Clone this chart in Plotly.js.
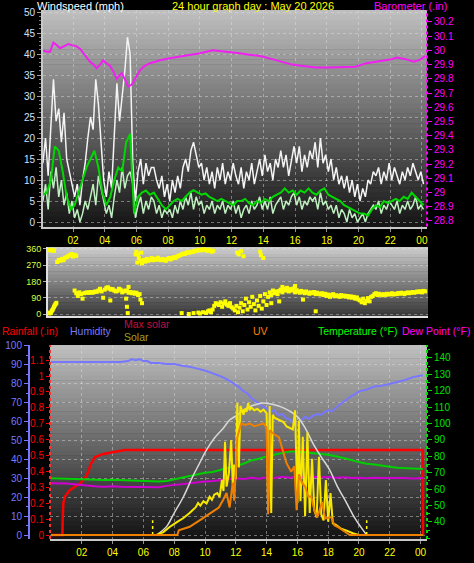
<!DOCTYPE html>
<html><head><meta charset="utf-8">
<script src="https://cdn.plot.ly/plotly-3.0.1.min.js"></script>
<style>html,body{margin:0;padding:0;background:#000;}#chart{width:474px;height:563px;}</style>
</head><body><div id="chart"></div>
<script>
function grid(start, step, n){const a=[];for(let i=0;i<n;i++)a.push(+(start+i*step).toFixed(3));return a;}

// ---------- tick labels ----------
const hourTicks=[2,4,6,8,10,12,14,16,18,20,22,24];
const hourLabels=['02','04','06','08','10','12','14','16','18','20','22','00'];
const baroTicks=[28.8,28.9,29.0,29.1,29.2,29.3,29.4,29.5,29.6,29.7,29.8,29.9,30.0,30.1,30.2];
const baroLabels=['28.8','28.9','29','29.1','29.2','29.3','29.4','29.5','29.6','29.7','29.8','29.9','30','30.1','30.2'];
const dirTicks=[0,90,180,270,360];
const compassTicks=[360,270,180,90,0];
const compassLabels=['N','W','S','E','N'];
const rainTicks=[0,0.1,0.2,0.3,0.4,0.5,0.6,0.7,0.8,0.9,1,1.1];
const rainLabels=['0','0.1','0.2','0.3','0.4','0.5','0.6','0.7','0.8','0.9','1','1.1'];
const tempTicks=[40,50,60,70,80,90,100,110,120,130,140];

// ---------- wind (mph), samples every 10 min from 00:06 ----------
const gustValues=[
14,20,11,22,34,24, 27,19,26,15,12,9, 6,9,4,10,14,20, 25,22,34,28,18,10,
6,12,8,20,33,24, 30,36,44,40,14,5, 12,15,9,14,11,13, 13,10,8,11,6,9,
5,10,7,11,8,13, 15,12,17,19,16,13, 14,10,13,9,12,8, 13,10,14,9,12,10,
14,11,9,13,8,12, 10,14,9,12,15,11, 16,12,14,10,15,13, 17,13,16,11,15,18,
14,18,12,16,13,17, 15,19,13,20,14,16, 12,15,10,13,9,11, 8,11,7,10,6,9,
5,8,6,10,9,12, 11,13,9,12,10,14, 10,13,11,9,12,10, 13,11,14,12,10,12, 9];
const avgValues=[
5,9,3,12,8,13, 6,10,4,7,2,5, 1,3,0,2,5,3, 6,9,4,11,8,5,
2,4,1,6,10,7, 13,8,11,12,9,1, 4,6,2,5,3,6, 5,2,4,1,3,2,
3,1,4,2,5,3, 6,4,7,3,6,4, 5,2,4,3,5,2, 4,3,5,2,4,3,
5,2,4,1,3,4, 2,5,3,4,6,3, 5,3,6,2,4,5, 6,3,5,4,6,7,
4,6,3,5,4,6, 5,6,3,7,4,5, 3,4,2,4,1,3, 2,0,3,1,2,0,
1,2,0,2,3,4, 3,5,2,4,3,5, 4,3,5,2,4,3, 5,3,4,6,3,4, 3];
const gustTimes=grid(0.1,1/6,gustValues.length);
// 10-minute average, every 15 min
const avg10Values=[
6.5,7,10,18,17,12,6,3, 4,7,10,13,15,17,13,7, 4,6,10,13,12,19,21,2,
6,7,7.5,6.5,7,5.5,4,3, 4,5,5.5,5,6,7,7.6,7, 6.5,6.8,6,5.5,5,5.5,5,4.5,
4,5,5,5.5,4.5,4,5,4.5, 5.5,5,6,6.5,7,8,7,7.5, 6.5,7.5,7,8,7,6.5,7.5,8,
6.5,6,5.5,5,4,3.5,3,2.5, 2,2,1.5,3,4,3.5,5,4.5, 5,5.5,5,6,5.5,7,6,5, 4];
const avg10Times=grid(0.1,0.25,avg10Values.length);
// barometer (in)
const baroTimes=[0.1,0.35,0.55,0.76,0.95,1.18,1.45,1.71,1.95,2.2,2.45,2.65,2.85,3.07,3.3,3.49,3.7,3.9,4.1,4.34,
4.55,4.75,4.9,5.07,5.25,5.49,5.7,5.9,6.22,6.5,6.85,7.2,7.48,8.1,8.95,10.0,10.8,11.9,12.5,13.1,
13.8,14.5,15.1,15.8,16.5,17.3,18.1,19.0,19.8,20.5,21.4,22.0,22.4,22.9,23.5,23.9,24.2];
const baroValues=[30.0,29.99,29.99,30.055,30.04,30.015,30.03,30.045,30.035,30.03,30.01,29.98,29.95,29.92,29.90,29.875,29.90,29.93,29.91,29.89,
29.85,29.80,29.82,29.84,29.80,29.745,29.76,29.80,29.86,29.89,29.91,29.92,29.93,29.945,29.96,29.98,30.0,29.99,29.98,29.97,
29.96,29.94,29.92,29.90,29.89,29.88,29.88,29.88,29.885,29.91,29.925,29.935,29.95,29.94,29.92,29.935,29.96];

// ---------- wind direction (degrees) ----------
const dirTimes=[].concat(
 grid(0.5,0.05,10),[0.5,0.6,0.7,0.8],grid(1.0,0.1,13),grid(2.1,0.1,22),grid(4.3,0.1,20),
 [4.35,5.35,5.4,5.45,5.5,6.25,6.35],grid(5.95,0.1,50),[6.0,6.1,6.3],
 [8.85,9.3,9.6,9.9,10.0,10.2,10.4,10.5,10.6,10.7,10.8],grid(10.9,0.1,13),grid(12.2,0.1,21),
 [12.35,12.45,12.6,12.75,13.8,13.85,14.0],grid(14.3,0.1,58),[14.5,15.0,15.2,16.0,16.5,17.3],
 grid(20.1,0.1,9),grid(21.0,0.1,33));
const dirValues=[].concat(
 [3,8,5,15,22,30,40,48,55,62],[355,352,356,350],
 [288,300,295,305,298,312,315,320,325,332,318,328,322],
 [130,115,100,120,110,85,115,118,120,117,122,118,120,125,123,130,140,125,90,135,145,148],
 [140,135,138,130,125,128,140,135,120,125,130,128,118,122,115,120,112,118,105,110],
 [75,85,40,5,150,80,60],
 [330,285,310,295,280,300,290,305,295,300, 310,298,305,300,312,302,298,305,300,295,
  305,310,302,308,315,310,318,322,325,330, 335,332,338,342,340,345,343,348,350,352,
  355,352,356,358,355,350,357,352,345,350],[345,330,340],
 [5,0,5,8,3,10,6,15,20,10,25],
 [45,60,55,50,65,40,58,70,52,45,60,38,30],
 [20,45,10,35,60,15,50,85,25,65,40,95,55,20,75,45,100,30,70,110,50],
 [340,330,348,320,345,325,310],
 [95,120,105,130,115,125,110,128,135,120, 140,130,145,125,138,130,142,120,132,125,
  118,128,122,115,125,118,112,120,115,122, 110,118,112,108,115,105,112,100,108,95,
  105,110,98,104,100,95,105,98,102,96, 100,92,98,90,95,85,92,80],
 [60,70,150,155,80,15],
 [75,65,85,60,72,88,70,95,100],
 [110,115,105,112,108,104,110,106,112,108, 110,115,108,112,110,116,112,118,114,110,
  116,120,115,118,122,118,120,125,122,126, 120,128,125]);

// ---------- bottom panel ----------
const humTimes=[0,0.5,1,1.5,2,2.5,3,3.5,4,4.5,5,5.25,5.5,5.75,6,6.25,6.5,7,7.5,8,8.5,9,9.5,10,10.5,11,11.5,12,
12.25,12.5,12.75,13,13.25,13.5,13.75,14,14.25,14.5,14.75,15,15.25,15.5,15.75,16,16.25,16.5,16.75,17,17.25,17.5,17.75,18,
18.25,18.5,18.75,19,19.25,19.5,19.75,20,20.5,21,21.5,22,22.5,23,23.5,24,24.15];
const humValues=[91.5,91.5,91.5,91.5,91.5,91.5,91.5,91.5,91.5,91.5,92,93,92.5,93,92,92,91,91,90.5,90.5,89.5,89,88,87,85.5,84,82,79.5,
78,76,75,72.5,71,69.5,68,67,65,66,63.5,64,62,61,59.5,59,61,62.5,61.5,63,64,63.5,65,66,
65.5,67.5,69,70.5,72,73.5,74.5,76,77,78.5,79,80,81,82,83.5,84.5,84.5];
const tempTimes=grid(0,0.5,49).concat([24.15]);
const tempValues=[66.6,66.6,66.5,66.2,66,65.8,65.6,65.6,65.8,65.6, 65.5,65.2,64.8,64.6,64.6,65,66,67,68,69,
70,70.5,71.7,73,74,75.5,77.5,78.5,80,81, 82,83,83,82.5,82,81.5,81,80,79,77.8,
76.5,75.5,75,74.5,73.7,73,72.8,72.5,72.3,72.3];
const dewValues=[63.6,63.6,63.5,63,62.5,62,61.6,61.5,61.8,61.5, 61.5,61.5,61.5,61.5,61.2,62,62.6,63,63.5,64,
64.6,65,65.6,66,66.6,66.2,67,66.4,67.2,66.8, 67.6,67,67.8,67.3,67.6,67.2,67.4,67,67.2,66.8,
67,66.6,67,66.8,66.9,66.6,66.8,66.5,66.8,66.8];
const rainTimes=[0,0.74,0.76,0.8,0.9,1.2,1.5,1.9,2.3,2.6,2.86,3.4,4.0,4.8,8,12,16,20,24.15,24.16];
const rainValues=[0,0,0.1,0.2,0.24,0.28,0.3,0.325,0.37,0.45,0.49,0.51,0.52,0.535,0.535,0.535,0.535,0.535,0.535,0];
const maxSolarTimes=[6.85,7.5,8.0,8.6,9.2,9.6,10.1,10.6,11.2,11.6,12.1,12.5,13.0,13.5,13.8,14.2,14.6,14.9,15.5,16.0,16.5,17.0,17.5,18.1,18.6,19.2,19.7,20.1,20.5];
const maxSolarValues=[0,57,150,261,398,480,580,660,730,784,818,852,880,895,900,895,885,875,845,807,730,627,540,443,330,218,120,57,0];
const solarTimes=[0,6.85,7.3,7.7,8.2,8.6,9.0,9.2,9.4,9.55, 9.7,9.9,10.1,10.3,10.45,10.6,10.8,10.95,11.1,11.2,
11.3,11.4,11.55,11.7,11.8,11.9,12.0,12.1,12.2,12.3, 12.4,12.5,12.6,12.7,12.8,12.9,13.0,13.2,13.4,13.6,
13.8,14.0,14.1,14.2,14.3,14.4,14.5,14.7,14.9,15.1, 15.3,15.5,15.7,15.85,16.0,16.1,16.2,16.35,16.5,16.65,
16.8,16.95,17.1,17.25,17.4,17.55,17.7,17.85,18.0,18.15, 18.3,18.5,18.8,19.2,19.6,20.0,24.15];
const solarValues=[0,0,20,55,90,116,150,170,190,218, 200,230,215,261,240,275,286,260,375,300,
636,330,420,648,350,480,380,900,460,880, 850,820,860,840,900,850,870,850,860,840,
855,830,170,880,150,820,800,790,784,770, 740,730,720,850,218,780,230,670,128,700,
150,520,170,120,534,140,100,375,90,286, 80,70,45,30,12,0,0];
const uvTimes=[0,8.2,8.3,9.0,9.7,10.5,10.9,11.2,11.4,11.6, 11.8,11.9,12.0,12.1,12.35,12.6,12.9,13.2,13.5,13.8,
14.0,14.1,14.2,14.5,14.8,15.0,15.3,15.6,15.8,15.95, 16.1,16.3,16.5,16.7,16.9,17.1,17.3,17.6,17.8,18.2,
18.4,18.6,19.0,19.2,19.4,24.15];
const uvValues=[0,0,0.35,0.6,1.1,1.7,2.0,2.6,3.05,2.0, 3.8,2.5,4.7,7.1,8.1,8.0,8.1,7.9,8.0,8.1,
7.8,1.5,7.6,7.3,7.1,6.4,5.2,4.6,5.0,1.8, 4.4,3.8,3.5,2.8,2.8,1.8,1.3,2.4,1.2,1.3,
0.7,0.6,0.3,0.15,0,0];
const sunTimes=[6.6,20.5];
const sunMarkHeight=100;

// ---------- layout helpers ----------
const W=474,H=563;
const fx=p=>p/W, fy=p=>1-p/H;
const TOP={l:43,r:427,t:10,b:226.5}, MID={l:48,r:428,t:247,b:316}, BOT={l:50,r:427,t:345,b:539};
function bands(box,cTop,cBot,n){
  const s=[];const h=(box.b-box.t)/n;
  for(let k=0;k<n;k++){
    const g=Math.round(cTop+(cBot-cTop)*(k+0.5)/n);
    s.push({type:'rect',xref:'paper',yref:'paper',layer:'below',x0:fx(box.l),x1:fx(box.r),
      y0:fy(box.t+(k+1)*h+0.5),y1:fy(box.t+k*h),fillcolor:`rgb(${g},${g},${g})`,line:{width:0}});
  }
  return s;
}
const FONT='Liberation Sans, Arial, sans-serif';
const gridc='rgba(225,225,225,0.45)';

const traces=[
 {x:gustTimes,y:gustValues,xaxis:'x',yaxis:'y',mode:'lines',line:{color:'#f4f4f4',width:1.5}},
 {x:gustTimes,y:avgValues,xaxis:'x',yaxis:'y',mode:'lines',line:{color:'#bff0bf',width:1.5}},
 {x:avg10Times,y:avg10Values,xaxis:'x',yaxis:'y',mode:'lines',line:{color:'#00d800',width:2}},
 {x:baroTimes,y:baroValues,xaxis:'x',yaxis:'y2',mode:'lines',line:{color:'#f020f0',width:2}},
 {x:dirTimes,y:dirValues,xaxis:'x2',yaxis:'y3',mode:'markers',marker:{color:'#ffff00',size:4,symbol:'square',line:{width:0}}},
 {x:humTimes,y:humValues,xaxis:'x3',yaxis:'y6',mode:'lines',line:{color:'#7878ff',width:2}},
 {x:tempTimes,y:tempValues,xaxis:'x3',yaxis:'y7',mode:'lines',line:{color:'#00d000',width:2}},
 {x:tempTimes,y:dewValues,xaxis:'x3',yaxis:'y7',mode:'lines',line:{color:'#d000d0',width:2}},
 {x:rainTimes,y:rainValues,xaxis:'x3',yaxis:'y5',mode:'lines',line:{color:'#ff0000',width:2.5}},
 {x:maxSolarTimes,y:maxSolarValues,xaxis:'x3',yaxis:'y8',mode:'lines',line:{color:'#d8d8d8',width:1.5,shape:'spline'}},
 {x:solarTimes,y:solarValues,xaxis:'x3',yaxis:'y8',mode:'lines',line:{color:'#f8e800',width:2}},
 {x:uvTimes,y:uvValues,xaxis:'x3',yaxis:'y9',mode:'lines',line:{color:'#f08000',width:2}},
 {x:[sunTimes[0],sunTimes[0]],y:[0,sunMarkHeight],xaxis:'x3',yaxis:'y8',mode:'lines',line:{color:'#ffff00',width:1.5,dash:'dot'}},
 {x:[sunTimes[1],sunTimes[1]],y:[0,sunMarkHeight],xaxis:'x3',yaxis:'y8',mode:'lines',line:{color:'#ffff00',width:1.5,dash:'dot'}}
];

const tf=(c,s)=>({color:c,size:s||10,family:FONT});
const layout={
 width:W,height:H,margin:{l:0,r:0,t:0,b:0},paper_bgcolor:'#000',plot_bgcolor:'rgba(0,0,0,0)',
 showlegend:false,hovermode:false,font:{family:FONT},
 xaxis:{domain:[fx(TOP.l),fx(TOP.r)],range:[0.107,24.32],anchor:'y',tickmode:'array',tickvals:hourTicks,ticktext:hourLabels,
  tickfont:tf('#ffff00'),ticks:'outside',ticklen:3,tickcolor:'#909090',showgrid:true,gridcolor:gridc,griddash:'dot',
  showline:true,linecolor:'#c8c8c8',linewidth:2,zeroline:false},
 yaxis:{domain:[fy(TOP.b),fy(TOP.t)],range:[-1.07,50.48],anchor:'x',dtick:5,tick0:0,tickfont:tf('#d0e0ff'),
  ticks:'outside',ticklen:4,tickcolor:'#a0a0a0',minor:{dtick:1,ticklen:2,ticks:'outside',tickcolor:'#808080'},
  showgrid:true,gridcolor:gridc,griddash:'dot',showline:true,linecolor:'#c8c8c8',linewidth:2,zeroline:false},
 yaxis2:{overlaying:'y',side:'right',anchor:'x',range:[28.761,30.284],tickmode:'array',tickvals:baroTicks,ticktext:baroLabels,
  tickfont:tf('#ff00ff'),ticks:'outside',ticklen:4,tickcolor:'#ff00ff',showgrid:false,zeroline:false,showline:false},
 xaxis2:{domain:[fx(MID.l),fx(MID.r)],range:[0.4224,24.38],anchor:'y3',showticklabels:false,ticks:'',showgrid:false,
  showline:true,linecolor:'#e0e0e0',linewidth:2,zeroline:false},
 yaxis3:{domain:[fy(MID.b),fy(MID.t)],range:[-11,371],anchor:'x2',tickmode:'array',tickvals:dirTicks,tickfont:tf('#d8ff40',9),
  ticks:'outside',ticklen:3,tickcolor:'#b0b0b0',showgrid:true,gridcolor:'rgba(235,235,235,0.4)',griddash:'dot',
  showline:true,linecolor:'#e0e0e0',linewidth:2,zeroline:false},
 yaxis4:{overlaying:'y3',side:'right',anchor:'x2',range:[-11,371],tickmode:'array',tickvals:compassTicks,ticktext:compassLabels,
  tickfont:tf('#ffff00',14),ticks:'',ticklabelstandoff:14,showgrid:false,zeroline:false,showline:false},
 xaxis3:{domain:[fx(BOT.l),fx(BOT.r)],range:[-0.065,24.416],anchor:'y5',tickmode:'array',tickvals:hourTicks,ticktext:hourLabels,
  tickfont:tf('#ffff00'),ticks:'outside',ticklen:3,tickcolor:'#909090',showgrid:true,gridcolor:gridc,griddash:'dot',
  showline:true,linecolor:'#c8c8c8',linewidth:2,zeroline:false},
 yaxis5:{domain:[fy(BOT.b),fy(BOT.t)],range:[-0.025,1.195],anchor:'x3',tickmode:'array',tickvals:rainTicks,ticktext:rainLabels,
  tickfont:tf('#ff0000'),ticks:'outside',ticklen:3,tickcolor:'#ff0000',showgrid:false,zeroline:false,showline:false},
 yaxis6:{overlaying:'y5',anchor:'free',position:fx(29),side:'left',range:[-2.1,100.5],dtick:10,tick0:0,tickfont:tf('#7878ff'),
  ticks:'outside',ticklen:4,tickcolor:'#7878ff',minor:{dtick:5,ticklen:2,ticks:'outside',tickcolor:'#7878ff'},
  showgrid:true,gridcolor:gridc,griddash:'dot',showline:true,linecolor:'#7878ff',linewidth:2,zeroline:false},
 yaxis7:{overlaying:'y5',side:'right',anchor:'x3',range:[29.6,147.9],tickmode:'array',tickvals:tempTicks,tickfont:tf('#00e000'),
  ticks:'outside',ticklen:4,tickcolor:'#00e000',minor:{dtick:5,ticklen:2,ticks:'outside',tickcolor:'#00e000'},
  showgrid:false,zeroline:false,showline:false},
 yaxis8:{overlaying:'y5',range:[-27.3,1295.5],visible:false},
 yaxis9:{overlaying:'y5',range:[-0.29,13.8],visible:false},
 shapes:[].concat(bands(TOP,192,20,44),bands(MID,205,55,20),bands(BOT,192,18,44),[
  {type:'line',xref:'x domain',yref:'y domain',x0:1,x1:1,y0:0,y1:1,line:{color:'#ff00ff',width:2,dash:'dot'}},
  {type:'line',xref:'x3 domain',yref:'y5 domain',x0:0,x1:0,y0:0,y1:1,line:{color:'#ff3030',width:2,dash:'dot'}},
  {type:'line',xref:'x3 domain',yref:'y5 domain',x0:1,x1:1,y0:0,y1:1,line:{color:'#00e000',width:2,dash:'dot'}}
 ]),
 annotations:[
  {text:'Windspeed (mph)',x:fx(35),y:fy(6),xanchor:'left',font:tf('#ffffff',11)},
  {text:'24 hour graph day : May 20 2026',x:fx(253),y:fy(6),xanchor:'center',font:tf('#ffff00',11)},
  {text:'Barometer (.in)',x:fx(449),y:fy(6),xanchor:'right',font:tf('#ff00ff',11)},
  {text:'Rainfall (.in)',x:fx(0),y:fy(331),xanchor:'left',font:tf('#ff0000',10.5)},
  {text:'Humidity',x:fx(68),y:fy(331),xanchor:'left',font:tf('#7878ff',10.5)},
  {text:'Max solar',x:fx(122),y:fy(324),xanchor:'left',font:tf('#c01040',10.5)},
  {text:'Solar',x:fx(122),y:fy(337),xanchor:'left',font:tf('#a0a020',10.5)},
  {text:'UV',x:fx(251),y:fy(331),xanchor:'left',font:tf('#ff8000',10.5)},
  {text:'Temperature (°F)',x:fx(316),y:fy(331),xanchor:'left',font:tf('#00ff00',10.5)},
  {text:'Dew Point (°F)',x:fx(472),y:fy(331),xanchor:'right',font:tf('#ff00ff',10.5)}
 ].map(a=>Object.assign({xref:'paper',yref:'paper',yanchor:'middle',showarrow:false},a))
};
Plotly.newPlot('chart',traces,layout,{displayModeBar:false,staticPlot:true});
</script></body></html>
